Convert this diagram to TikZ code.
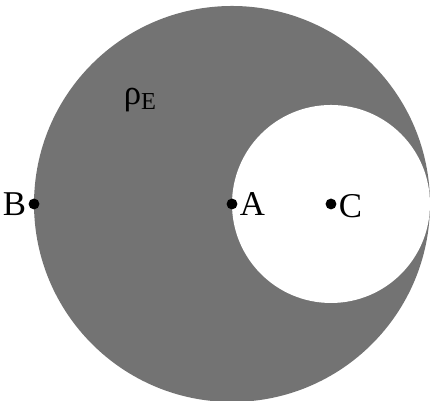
\documentclass[tikz,border=0pt]{standalone}
\usepackage{fontspec}
\setmainfont{Liberation Serif}
\begin{document}
\begin{tikzpicture}[scale=1.0,
  dot/.style={circle,fill=black,inner sep=0pt,minimum size=2.2mm},
  lbl/.style={font=\fontsize{20}{24}\selectfont,inner sep=1pt}]
\useasboundingbox (-4.687,-3.980) rectangle (4.0,4.121);
\fill[black!55] (0,0) circle (4);
\fill[white] (2,0) circle (2);
\node[dot,label={[lbl]left:B}] (B) at (-4,0) {};
\node[dot,label={[lbl]right:A}] (A) at (0,0) {};
\node[dot,label={[lbl,yshift=-1.5pt]right:C}] (C) at (2,0) {};
\node[lbl] (rho) at (-1.85,2.1) {ρ\textsubscript{E}};
\end{tikzpicture}
\end{document}
